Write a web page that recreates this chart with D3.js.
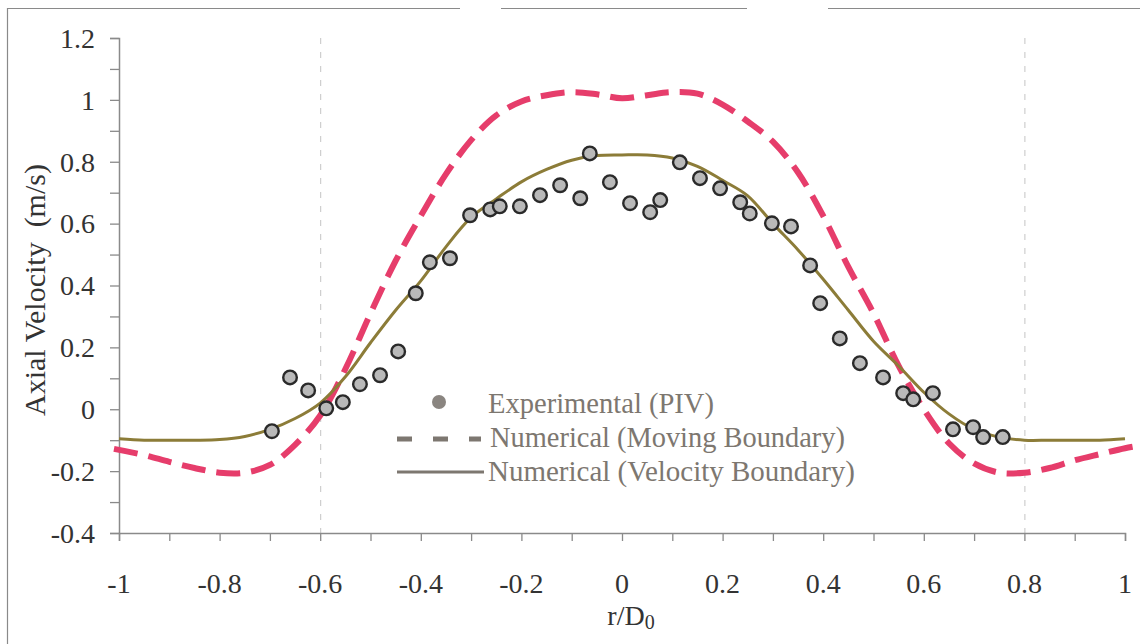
<!DOCTYPE html>
<html>
<head>
<meta charset="utf-8">
<script src="https://cdn.jsdelivr.net/npm/d3@7"></script>
<style>
  body { margin: 0; background: #fff; }
</style>
</head>
<body>
<svg id="chart" width="1140" height="644"></svg>
<script>
// Experimental PIV measurements (r/D0, axial velocity m/s)
const pivR = [-0.696, -0.660, -0.624, -0.588, -0.555, -0.521, -0.481, -0.445, -0.410, -0.382,
              -0.342, -0.302, -0.262, -0.243, -0.203, -0.163, -0.123, -0.083, -0.064, -0.024,
               0.016,  0.056,  0.076,  0.115,  0.155,  0.195,  0.235,  0.254,  0.298,  0.336,
               0.374,  0.394,  0.433,  0.473,  0.519,  0.559,  0.579,  0.618,  0.658,  0.698,
               0.718,  0.757];
const pivV = [-0.071, 0.103, 0.061, 0.003, 0.023, 0.081, 0.110, 0.187, 0.375, 0.475,
               0.488, 0.627, 0.646, 0.656, 0.656, 0.692, 0.724, 0.682, 0.827, 0.734,
               0.666, 0.637, 0.676, 0.798, 0.747, 0.714, 0.669, 0.633, 0.601, 0.591,
               0.465, 0.343, 0.229, 0.149, 0.103, 0.052, 0.032, 0.052, -0.065, -0.058,
              -0.090, -0.090];

// Numerical solution with velocity boundary condition
const velR = [-1.00, -0.95, -0.90, -0.85, -0.80, -0.75, -0.70, -0.65, -0.60, -0.55,
              -0.50, -0.45, -0.40, -0.35, -0.30, -0.25, -0.20, -0.15, -0.10, -0.05,
               0.00,  0.05,  0.10,  0.15,  0.20,  0.25,  0.30,  0.35,  0.40,  0.45,
               0.50,  0.55,  0.60,  0.65,  0.70,  0.75,  0.80,  0.85,  0.90,  0.95, 1.00];
const velV = [-0.095, -0.100, -0.100, -0.100, -0.098, -0.088, -0.065, -0.030, 0.020, 0.105,
               0.215,  0.320,  0.415,  0.525,  0.620,  0.680,  0.735,  0.775, 0.805, 0.820,
               0.822,  0.822,  0.812,  0.785,  0.740,  0.690,  0.600,  0.515, 0.420, 0.320,
               0.220,  0.140,  0.055, -0.015, -0.065, -0.090, -0.100, -0.100, -0.100, -0.100, -0.095];

// Numerical solution with moving boundary
const movR = [-1.01, -0.95, -0.90, -0.85, -0.80, -0.75, -0.70, -0.65, -0.60, -0.55,
              -0.50, -0.45, -0.40, -0.35, -0.30, -0.25, -0.20, -0.15, -0.10, -0.05,
               0.00,  0.05,  0.10,  0.15,  0.20,  0.25,  0.30,  0.35,  0.40,  0.45,
               0.50,  0.55,  0.60,  0.65,  0.70,  0.75,  0.80,  0.85,  0.90,  0.95, 1.00, 1.02];
const movV = [-0.128, -0.148, -0.170, -0.190, -0.205, -0.205, -0.180, -0.115, -0.020, 0.130,
               0.310,  0.480,  0.625,  0.760,  0.870,  0.950,  0.995,  1.015, 1.025, 1.018,
               1.005,  1.015,  1.025,  1.020,  0.985,  0.930,  0.865,  0.765, 0.625, 0.460,
               0.310,  0.140,  0.000, -0.110, -0.175, -0.205, -0.205, -0.190, -0.165, -0.145, -0.126, -0.120];

const xTicks = [-1, -0.8, -0.6, -0.4, -0.2, 0, 0.2, 0.4, 0.6, 0.8, 1];
const yTicks = [-0.4, -0.2, 0, 0.2, 0.4, 0.6, 0.8, 1, 1.2];
const gridR = [-0.6, 0.8];

const legendLabels = ["Experimental (PIV)", "Numerical (Moving Boundary)", "Numerical (Velocity Boundary)"];

const FONT = 'Tinos, "Times New Roman", "Liberation Serif"';
const svg = d3.select("#chart").style("display", "block").style("font-family", FONT);

const x = d3.scaleLinear().domain([-1, 1]).range([119, 1125]);
const y = d3.scaleLinear().domain([-0.4, 1.2]).range([533, 38]);
const fmt = d => String(d);

// text helper: every label gets its own serif face
function label(sel) {
  return sel.attr("font-family", FONT).style("font-family", FONT);
}

// outer frame
const frame = svg.append("g").attr("stroke", "#8a8a8a").attr("stroke-width", 1.2).attr("fill", "none");
[[7, 460], [501, 747], [828, 1140]].forEach(([a, b]) =>
  frame.append("line").attr("x1", a).attr("x2", b).attr("y1", 8.5).attr("y2", 8.5));
frame.append("line").attr("x1", 7.5).attr("x2", 7.5).attr("y1", 8).attr("y2", 644);

// vertical reference lines
svg.append("g").selectAll("line").data(gridR).join("line")
  .attr("x1", d => x(d) + 0.5).attr("x2", d => x(d) + 0.5)
  .attr("y1", y(1.2)).attr("y2", y(-0.4))
  .attr("stroke", "#c4c4c4").attr("stroke-width", 1)
  .attr("stroke-dasharray", "6,8");

// axes
const xAxis = d3.axisBottom(x).tickValues(d3.range(-10, 11).map(d => d / 10))
  .tickSize(8).tickFormat("");
const gx = svg.append("g").attr("transform", `translate(0,${y(-0.4)})`).call(xAxis);
const yAxis = d3.axisLeft(y).tickValues(d3.range(-4, 13).map(d => d / 10))
  .tickSize(9).tickFormat("");
const gy = svg.append("g").attr("transform", `translate(${x(-1)},0)`).call(yAxis);
[gx, gy].forEach(g => {
  g.select(".domain").attr("stroke", "#8a8a8a").attr("stroke-width", 1.5);
  g.selectAll(".tick line").attr("stroke", "#8a8a8a").attr("stroke-width", 1.3);
});

// tick labels
svg.append("g").selectAll("text").data(xTicks).join("text")
  .call(label)
  .attr("x", d => x(d)).attr("y", 593)
  .attr("text-anchor", "middle")
  .style("font-size", "28px").attr("fill", "#333")
  .text(fmt);
svg.append("g").selectAll("text").data(yTicks).join("text")
  .call(label)
  .attr("x", 95).attr("y", d => y(d)).attr("dy", "0.35em")
  .attr("text-anchor", "end")
  .style("font-size", "28px").attr("fill", "#333")
  .text(fmt);

// axis titles
svg.append("text").call(label)
  .attr("transform", "translate(45,290) rotate(-90)")
  .attr("text-anchor", "middle")
  .style("font-size", "30px").style("white-space", "pre")
  .attr("fill", "#333")
  .text("Axial Velocity  (m/s)");
const xt = svg.append("text").call(label)
  .attr("x", 631).attr("y", 625).attr("text-anchor", "middle")
  .style("font-size", "28px").attr("fill", "#333");
xt.append("tspan").text("r/D");
xt.append("tspan").style("font-size", "20px").attr("dy", 4).text("0");

// series
const line = d3.line().curve(d3.curveCatmullRom.alpha(0.5));
svg.append("path")
  .attr("d", line(movR.map((r, i) => [x(r), y(movV[i])])))
  .attr("fill", "none").attr("stroke", "#e63d6b").attr("stroke-width", 6)
  .attr("stroke-dasharray", "24,11");
svg.append("path")
  .attr("d", line(velR.map((r, i) => [x(r), y(velV[i])])))
  .attr("fill", "none").attr("stroke", "#8c7c38").attr("stroke-width", 3);

svg.append("g").selectAll("circle").data(pivR).join("circle")
  .attr("cx", d => x(d)).attr("cy", (d, i) => y(pivV[i]))
  .attr("r", 6.8)
  .attr("fill", "#b9b9b9").attr("stroke", "#2a2a2a").attr("stroke-width", 2.4);

// legend
const legColor = "#7d7770";
const leg = svg.append("g");
leg.append("circle").attr("cx", 439).attr("cy", 402).attr("r", 7).attr("fill", "#8a8580");
leg.append("line").attr("x1", 397).attr("x2", 481).attr("y1", 439).attr("y2", 439)
  .attr("stroke", legColor).attr("stroke-width", 5).attr("stroke-dasharray", "15,21");
leg.append("line").attr("x1", 397).attr("x2", 484).attr("y1", 472).attr("y2", 472)
  .attr("stroke", legColor).attr("stroke-width", 3);
const legY = [413, 447, 481];
const legX = [488, 490, 488];
const legW = [226, 355, 367];
leg.selectAll("text").data(legendLabels).join("text")
  .call(label)
  .attr("x", (d, i) => legX[i]).attr("y", (d, i) => legY[i])
  .style("font-size", "30px").attr("fill", legColor)
  .attr("textLength", (d, i) => legW[i]).attr("lengthAdjust", "spacingAndGlyphs")
  .text(d => d);
</script>
</body>
</html>
